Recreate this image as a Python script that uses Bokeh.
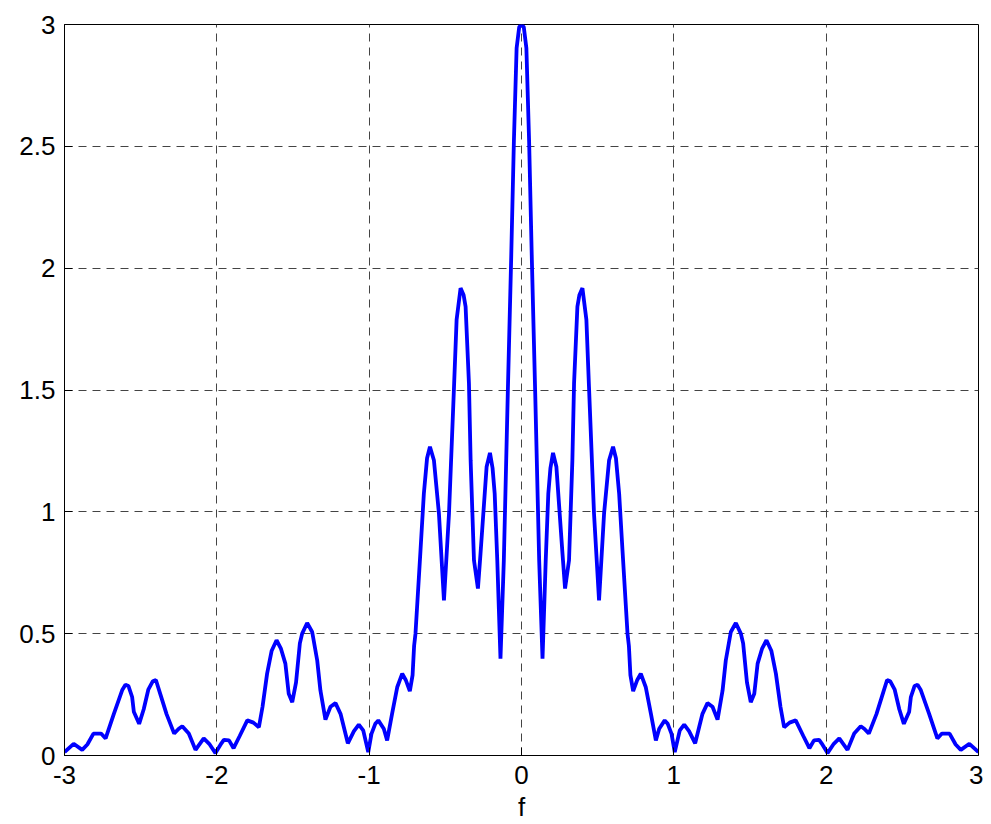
from bokeh.plotting import figure
from bokeh.models import Range1d, FixedTicker, ColumnDataSource
from bokeh.embed import file_html
from bokeh.resources import INLINE

# Values (negative half; the curve is symmetric about f = 0)
f_half = [-3.000, -2.940, -2.884, -2.850, -2.810, -2.760, -2.730, -2.676, -2.620, -2.600,
          -2.580, -2.556, -2.545, -2.510, -2.480, -2.450, -2.420, -2.400, -2.370, -2.330,
          -2.280, -2.250, -2.227, -2.184, -2.140, -2.086, -2.050, -2.009, -1.970, -1.954,
          -1.920, -1.890, -1.850, -1.800, -1.760, -1.724, -1.700, -1.670, -1.640, -1.608,
          -1.580, -1.550, -1.528, -1.505, -1.480, -1.455, -1.440, -1.407, -1.374, -1.341,
          -1.320, -1.287, -1.254, -1.221, -1.188, -1.166, -1.140, -1.100, -1.068, -1.039,
          -1.006, -0.985, -0.960, -0.940, -0.904, -0.882, -0.850, -0.816, -0.783, -0.760,
          -0.733, -0.715, -0.705, -0.696, -0.663, -0.641, -0.620, -0.601, -0.575, -0.542,
          -0.509, -0.476, -0.443, -0.426, -0.400, -0.380, -0.367, -0.345, -0.334, -0.312,
          -0.286, -0.269, -0.229, -0.207, -0.190, -0.176, -0.159, -0.138, -0.116, -0.090,
          -0.068, -0.050, -0.032, -0.015, 0.000]
v_half = [0.014, 0.048, 0.023, 0.045, 0.090, 0.090, 0.070, 0.171, 0.270, 0.290,
          0.285, 0.240, 0.180, 0.130, 0.190, 0.270, 0.305, 0.310, 0.250, 0.170,
          0.090, 0.110, 0.120, 0.090, 0.023, 0.070, 0.048, 0.010, 0.050, 0.064,
          0.062, 0.030, 0.080, 0.144, 0.135, 0.116, 0.200, 0.336, 0.430, 0.473,
          0.440, 0.377, 0.253, 0.219, 0.300, 0.460, 0.500, 0.544, 0.507, 0.390,
          0.267, 0.147, 0.200, 0.215, 0.171, 0.116, 0.050, 0.100, 0.127, 0.103,
          0.014, 0.089, 0.130, 0.144, 0.110, 0.062, 0.170, 0.280, 0.336, 0.310,
          0.264, 0.330, 0.450, 0.500, 0.842, 1.075, 1.220, 1.267, 1.212, 0.993,
          0.637, 0.993, 1.514, 1.788, 1.918, 1.890, 1.842, 1.527, 1.212, 0.801,
          0.685, 0.829, 1.185, 1.242, 1.180, 1.075, 0.801, 0.397, 0.801, 1.486,
          2.034, 2.520, 2.904, 2.990, 3.000]

# Mirror to the positive side
f_vals = f_half + [-x for x in reversed(f_half[:-1])]
v_vals = v_half + list(reversed(v_half[:-1]))

x_ticks = [-3, -2, -1, 0, 1, 2, 3]
x_tick_labels = ["-3", "-2", "-1", "0", "1", "2", "3"]
y_ticks = [0, 0.5, 1, 1.5, 2, 2.5, 3]
y_tick_labels = ["0", "0.5", "1", "1.5", "2", "2.5", "3"]
x_label = "f"

FONT = "Liberation Sans"
FS = "26px"

p = figure(width=983, height=824, output_backend="svg", toolbar_location=None,
           x_range=Range1d(-3, 3), y_range=Range1d(0, 3),
           min_border_left=64, min_border_right=5, min_border_top=24, min_border_bottom=69)

src = ColumnDataSource(data=dict(f=f_vals, v=v_vals))
p.line("f", "v", source=src, line_color="#0000FF", line_width=3.8)

p.xaxis.ticker = FixedTicker(ticks=x_ticks)
p.yaxis.ticker = FixedTicker(ticks=y_ticks)
p.xaxis.major_label_overrides = {t: l for t, l in zip(x_ticks, x_tick_labels)}
p.yaxis.major_label_overrides = {t: l for t, l in zip(y_ticks, y_tick_labels)}
p.xaxis.axis_label = x_label

for ax in (p.xaxis[0], p.yaxis[0]):
    ax.axis_line_color = "black"
    ax.axis_line_width = 1
    ax.major_tick_in = 8
    ax.major_tick_out = 0
    ax.minor_tick_in = 0
    ax.minor_tick_out = 0
    ax.major_tick_line_color = "black"
    ax.major_label_text_font = FONT
    ax.major_label_text_font_size = FS
    ax.major_label_text_color = "black"
    ax.axis_label_text_font = FONT
    ax.axis_label_text_font_size = FS
    ax.axis_label_text_font_style = "normal"
    ax.axis_label_text_color = "black"

p.xaxis.major_label_standoff = 10
p.yaxis.major_label_standoff = 9
p.xaxis.axis_label_standoff = 5
p.xaxis.axis_label_text_line_height = 0.5

p.xgrid.ticker = FixedTicker(ticks=x_ticks)
p.ygrid.ticker = FixedTicker(ticks=y_ticks)
for g in (p.xgrid[0], p.ygrid[0]):
    g.grid_line_color = "#444444"
    g.grid_line_dash = "8 6"
    g.grid_line_width = 1

p.outline_line_color = "black"
p.outline_line_width = 1
p.background_fill_color = "white"
p.border_fill_color = "white"

open("out.html", "w").write(file_html(p, INLINE))
